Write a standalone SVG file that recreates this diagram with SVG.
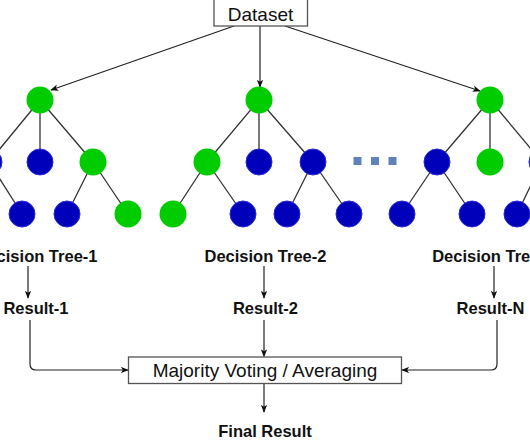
<svg xmlns="http://www.w3.org/2000/svg" width="530" height="442" viewBox="0 0 530 442">
<style>
.g{fill:#00cc00}
.b{fill:#0000bb;stroke:#2a2ad8;stroke-width:1}
.e{stroke:#333;stroke-width:1.3;fill:none}
.a{stroke:#222;stroke-width:1.2;fill:none}
.lbl{font-family:"Liberation Sans",Arial,sans-serif;font-weight:bold;font-size:16.5px;fill:#111;text-anchor:middle}
.box{fill:#fff;stroke:#555;stroke-width:1.3}
.bt{font-family:"Liberation Sans",Arial,sans-serif;font-size:19px;fill:#111;text-anchor:middle}
.dot{fill:#5f82b9}
</style>
<defs>
<marker id="ar" viewBox="0 0 10 8" refX="9" refY="4" markerWidth="8" markerHeight="6.5" orient="auto" markerUnits="userSpaceOnUse">
<path d="M0,0 L10,4 L0,8 L2.5,4 z" fill="#111"/>
</marker>
</defs>
<g id="connectors">
<line class="a" x1="234" y1="26" x2="51" y2="90" marker-end="url(#ar)"/>
<line class="a" x1="260" y1="26" x2="260" y2="87" marker-end="url(#ar)"/>
<line class="a" x1="285" y1="26" x2="480" y2="91" marker-end="url(#ar)"/>
<line class="a" x1="28" y1="266" x2="28" y2="298" marker-end="url(#ar)"/>
<line class="a" x1="264" y1="266" x2="264" y2="298" marker-end="url(#ar)"/>
<line class="a" x1="494" y1="266" x2="494" y2="298" marker-end="url(#ar)"/>
<path class="a" d="M30,320 V364 Q30,370 36,370 H128" marker-end="url(#ar)"/>
<line class="a" x1="264" y1="320" x2="264" y2="356.5" marker-end="url(#ar)"/>
<path class="a" d="M497,320 V364 Q497,370 491,370 H402" marker-end="url(#ar)"/>
<line class="a" x1="264" y1="383.5" x2="264" y2="412" marker-end="url(#ar)"/>
</g>
<g id="tree-edges">
<path class="e" d="M40,100 L-11,162 M40,100 L40,162 M40,100 L93,162 M-11,162 L22,214 M93,162 L67,214 M93,162 L128,214"/>
<path class="e" d="M259,100 L207,162 M259,100 L259,162 M259,100 L313,162 M207,162 L173,214 M207,162 L243,214 M313,162 L287,214 M313,162 L349,214"/>
<path class="e" d="M490,100 L437,162 M490,100 L490,162 M490,100 L542,162 M437,162 L402,214 M437,162 L472,214 M542,162 L517,214"/>
</g>
<g id="dataset">
<rect class="box" x="214" y="-1" width="93.5" height="27"/>
<text class="bt" x="260.5" y="20.5">Dataset</text>
</g>
<g id="tree-1">
<circle class="g" cx="40" cy="100" r="13.5"/>
<circle class="b" cx="-11" cy="162" r="13"/>
<circle class="b" cx="40" cy="162" r="13"/>
<circle class="g" cx="93" cy="162" r="13.5"/>
<circle class="b" cx="22" cy="214" r="13"/>
<circle class="b" cx="67" cy="214" r="13"/>
<circle class="g" cx="128" cy="214" r="13.5"/>
</g>
<g id="tree-2">
<circle class="g" cx="259" cy="100" r="13.5"/>
<circle class="g" cx="207" cy="162" r="13.5"/>
<circle class="b" cx="259" cy="162" r="13"/>
<circle class="b" cx="313" cy="162" r="13"/>
<circle class="g" cx="173" cy="214" r="13.5"/>
<circle class="b" cx="243" cy="214" r="13"/>
<circle class="b" cx="287" cy="214" r="13"/>
<circle class="b" cx="349" cy="214" r="13"/>
</g>
<g id="ellipsis">
<rect class="dot" x="353.5" y="157" width="8" height="8"/>
<rect class="dot" x="371" y="157" width="8" height="8"/>
<rect class="dot" x="388.5" y="157" width="8" height="8"/>
</g>
<g id="tree-n">
<circle class="g" cx="490" cy="100" r="13.5"/>
<circle class="b" cx="437" cy="162" r="13"/>
<circle class="g" cx="490" cy="162" r="13.5"/>
<circle class="b" cx="542" cy="162" r="13"/>
<circle class="b" cx="402" cy="214" r="13"/>
<circle class="b" cx="472" cy="214" r="13"/>
<circle class="b" cx="517" cy="214" r="13"/>
</g>
<g id="labels">
<text class="lbl" x="36.5" y="261.5">Decision Tree-1</text>
<text class="lbl" x="265.5" y="261.5">Decision Tree-2</text>
<text class="lbl" x="494.5" y="261.5">Decision Tree-N</text>
<text class="lbl" x="36" y="314">Result-1</text>
<text class="lbl" x="265.5" y="314">Result-2</text>
<text class="lbl" x="490.5" y="314">Result-N</text>
</g>
<g id="majority">
<rect class="box" x="128.5" y="357" width="273" height="26.5"/>
<text class="bt" x="265" y="377">Majority Voting / Averaging</text>
</g>
<g id="final">
<text class="lbl" x="265" y="437">Final Result</text>
</g>
</svg>
